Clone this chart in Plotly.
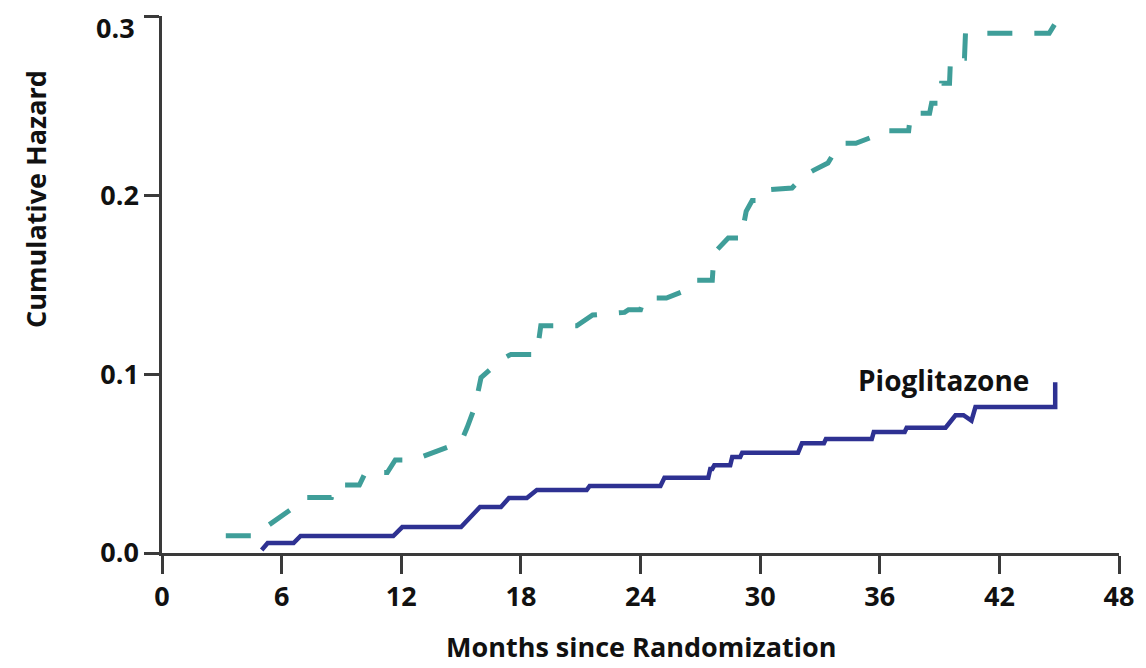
import plotly.graph_objects as go

# Pioglitazone arm: cumulative hazard step curve (months, hazard)
pio_months = [5.0, 5.3, 6.6, 6.95, 11.6, 12.05, 15.0, 15.95, 17.0, 17.4, 18.3, 18.8,
              21.3, 21.45, 25.0, 25.2, 27.4, 27.5, 27.6, 27.7, 28.5, 28.6, 29.0, 29.1,
              31.9, 32.1, 33.2, 33.3, 35.6, 35.7, 37.25, 37.35, 39.3, 39.8, 40.2, 40.6,
              40.8, 44.8, 44.8]
pio_hazard = [0.0017, 0.0056, 0.0056, 0.0095, 0.0095, 0.0145, 0.0145, 0.0257, 0.0257, 0.0307, 0.0307, 0.0352,
              0.0352, 0.0375, 0.0375, 0.042, 0.042, 0.047, 0.047, 0.049, 0.049, 0.0536, 0.0536, 0.056,
              0.056, 0.0614, 0.0614, 0.0637, 0.0637, 0.0676, 0.0676, 0.070, 0.070, 0.077, 0.077, 0.074,
              0.0816, 0.0816, 0.0955]

# Comparator arm: cumulative hazard step curve (months, hazard)
cmp_months = [3.2, 4.6, 6.5, 7.2, 8.5, 8.7, 9.9, 10.2, 11.3, 11.7, 12.6, 14.2,
              15.0, 15.3, 15.7, 16.0, 17.0, 17.5, 18.8, 19.0, 20.8, 21.6, 23.2, 23.4,
              24.0, 24.2, 25.3, 26.1, 26.6, 27.6, 27.65, 27.8, 28.4, 29.1, 29.15, 29.3,
              29.6, 30.1, 30.4, 31.6, 32.2, 32.7, 33.4, 33.7, 34.0, 34.8, 35.5, 36.0,
              37.45, 37.55, 38.5, 38.6, 39.0, 39.1, 39.5, 39.55, 40.25, 40.3, 44.5, 44.8]
cmp_hazard = [0.0097, 0.0097, 0.0246, 0.031, 0.031, 0.038, 0.038, 0.045, 0.045, 0.052, 0.052, 0.0587,
              0.062, 0.070, 0.082, 0.098, 0.108, 0.111, 0.111, 0.127, 0.127, 0.133, 0.1345, 0.136,
              0.136, 0.1425, 0.1425, 0.146, 0.1525, 0.1525, 0.161, 0.169, 0.176, 0.176, 0.182, 0.191,
              0.197, 0.197, 0.203, 0.204, 0.211, 0.214, 0.218, 0.2235, 0.229, 0.229, 0.232, 0.236,
              0.236, 0.2458, 0.2458, 0.2514, 0.2514, 0.2626, 0.2626, 0.2765, 0.2765, 0.2905, 0.2905, 0.296]

x_ticks = [0, 6, 12, 18, 24, 30, 36, 42, 48]
y_ticks = [0.0, 0.1, 0.2, 0.3]
y_tick_text = ["0.0", "0.1", "0.2", "0.3"]
Y_MAX = 0.3

FONT = "Open Sans"
AXIS_COLOR = "#3a3a3a"
TEXT_COLOR = "#111111"

fig = go.Figure()

fig.add_trace(go.Scatter(
    x=cmp_months, y=cmp_hazard, mode="lines",
    line=dict(color="#3f9e99", width=5, dash="25px,22px"),
    cliponaxis=False, showlegend=False, hoverinfo="skip",
))

fig.add_trace(go.Scatter(
    x=pio_months, y=pio_hazard, mode="lines",
    line=dict(color="#2e3192", width=4.5),
    cliponaxis=False, showlegend=False, hoverinfo="skip",
))

fig.add_annotation(
    x=34.8, y=0.0966, xref="x", yref="y", text="<b>Pioglitazone</b>",
    showarrow=False, xanchor="left", yanchor="middle",
    font=dict(family=FONT, size=28, color=TEXT_COLOR),
)

# Top tick label sits a little below its tick, drawn as its own text
fig.add_annotation(
    x=0, y=y_ticks[-1], xref="paper", yref="y", xshift=-25, yshift=-11,
    text=f"<b>{y_tick_text[-1]}</b>", showarrow=False,
    xanchor="right", yanchor="middle",
    font=dict(family=FONT, size=27, color=TEXT_COLOR),
)

fig.add_annotation(
    x=0.5, y=0, xref="paper", yref="paper", yshift=-93,
    text="<b>Months since Randomization</b>", showarrow=False,
    xanchor="center", yanchor="middle", borderpad=0,
    font=dict(family=FONT, size=27, color=TEXT_COLOR),
)

fig.add_annotation(
    x=0, y=0, xref="paper", yref="paper", xshift=-127, yshift=354,
    text="<b>Cumulative Hazard</b>", showarrow=False, textangle=-90,
    xanchor="center", yanchor="middle",
    font=dict(family=FONT, size=27, color=TEXT_COLOR),
)

fig.update_xaxes(
    range=[0, 48], tickmode="array", tickvals=x_ticks,
    ticktext=[f"<b>{t}</b>" for t in x_ticks],
    showline=True, linecolor=AXIS_COLOR, linewidth=2.5,
    ticks="outside", ticklen=18, tickwidth=2.5, tickcolor=AXIS_COLOR,
    showgrid=False, zeroline=False,
    tickfont=dict(family=FONT, size=27, color=TEXT_COLOR),
)
fig.update_yaxes(
    range=[0, Y_MAX * 1.0005], tickmode="array", tickvals=y_ticks,
    ticktext=[f"<b>{t}</b>" for t in y_tick_text[:-1]] + [""],
    showline=True, linecolor=AXIS_COLOR, linewidth=2.5,
    ticks="outside", ticklen=15, tickwidth=2.5, tickcolor=AXIS_COLOR,
    showgrid=False, zeroline=False,
    tickfont=dict(family=FONT, size=27, color=TEXT_COLOR),
)

fig.update_layout(
    width=1146, height=668,
    margin=dict(l=162, r=22, t=16, b=115),
    paper_bgcolor="white", plot_bgcolor="white",
)

fig.write_html("out.html")
